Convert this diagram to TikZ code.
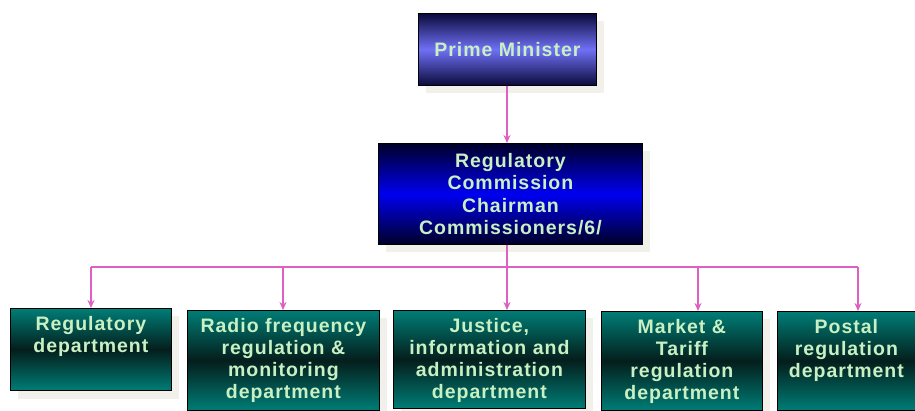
\documentclass[tikz,border=0pt]{standalone}
\usepackage{fontspec}
\setmainfont{Liberation Sans}[LetterSpace=5]
\usetikzlibrary{arrows.meta,shadows}
\definecolor{pmdark}{RGB}{10,10,60}
\definecolor{pmmid}{RGB}{112,112,245}
\definecolor{rcdark}{RGB}{0,0,40}
\definecolor{rcmid}{RGB}{0,0,240}
\definecolor{deptteal}{RGB}{0,125,118}
\definecolor{deptdark}{RGB}{4,30,28}
\definecolor{boxtext}{RGB}{200,240,195}
\definecolor{linkpink}{RGB}{222,96,192}
\definecolor{shadowgray}{RGB}{242,240,234}
\tikzset{
  box/.style={draw=black, line width=0.8pt, text=boxtext, align=center,
    anchor=north west, font=\fontsize{19.5}{22.5}\selectfont\bfseries,
    drop shadow={shadow xshift=8pt, shadow yshift=-8pt, fill=shadowgray, opacity=1}},
  pmbox/.style={box, top color=pmdark, bottom color=pmdark, middle color=pmmid},
  rcbox/.style={box, top color=rcdark, bottom color=rcdark, middle color=rcmid},
  dept/.style={box, top color=deptteal, bottom color=deptteal, middle color=deptdark,
    inner xsep=4pt, inner ysep=8pt, font=\fontsize{19.5}{22}\selectfont\bfseries},
  link/.style={draw=linkpink, line width=1.6pt},
  drop/.style={link, -{Stealth[length=8pt,width=7pt]}}
}
\begin{document}
\begin{tikzpicture}[x=1pt,y=-1pt]
    \useasboundingbox (0,0) rectangle (915,410);
    \node[pmbox, minimum width=178pt, minimum height=72pt] (pm) at (418,13) {Prime Minister};
    \node[rcbox, minimum width=264pt, minimum height=101pt] (rc) at (378,143)
      {Regulatory\\Commission\\Chairman\\Commissioners/6/};
    \node[dept, text width=153pt, text depth=52pt] (regdept) at (10,308)
      {Regulatory\\department};
    \node[dept, text width=184pt, text depth=70pt] (radio) at (187,310)
      {Radio frequency\\regulation \&\\monitoring\\department};
    \node[dept, text width=184pt, text depth=68pt] (justice) at (393,310)
      {Justice,\\information and\\administration\\department};
    \node[dept, text width=153pt, text depth=69pt] (market) at (601,311)
      {Market \&\\Tariff\\regulation\\department};
    \node[dept, text width=130pt, text depth=69pt] (postal) at (777,311)
      {Postal\\regulation\\department};
    \foreach \n/\x in {regdept/91,radio/283,justice/507,market/698,postal/858}{%
      \coordinate (d\n) at (\x,267);
      \draw[drop] (d\n) -- (d\n |- \n.north);
    }
    \draw[link] (dregdept) -- (dpostal);
    \draw[link] (rc.south -| djustice) -- (djustice);
    \draw[drop] (pm.south -| djustice) -- (rc.north -| djustice);
\end{tikzpicture}
\end{document}
